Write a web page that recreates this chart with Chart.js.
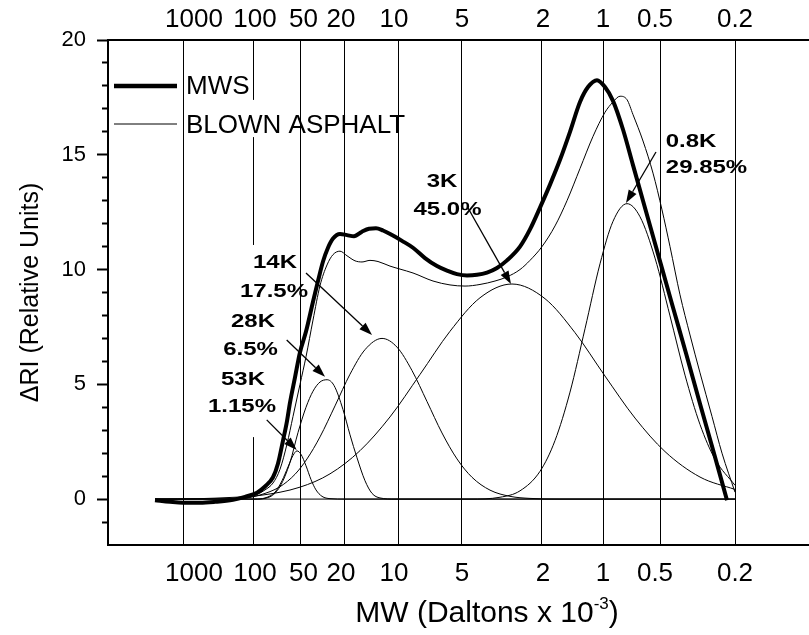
<!DOCTYPE html>
<html>
<head>
<meta charset="utf-8">
<title>MWS vs blown asphalt</title>
<script src="https://cdn.jsdelivr.net/npm/chart.js@4.4.1/dist/chart.umd.min.js"></script>
<style>
  html, body { margin: 0; padding: 0; background: #fff; overflow: hidden; }
  canvas { display: block; }
</style>
</head>
<body>
<canvas id="gpc" width="866" height="635"></canvas>
<script>
const FONT = '"Liberation Sans", Arial, Helvetica, sans-serif'

// elution axis in arbitrary units, MW marks where the calibration put them
const mwLabels = ['1000', '100', '50', '20', '10', '5', '2', '1', '0.5', '0.2']
const mwLinePos = [7.5, 14.5, 19.27, 23.6, 29.0, 35.37, 43.3, 49.55, 55.27, 62.7]
const mwLabelPos = [8.6, 14.7, 19.55, 23.3, 28.6, 35.4, 43.5, 49.5, 54.7, 62.7]
const riMajor = [0, 5, 10, 15, 20]
const riMinor = [-1, 1, 2, 3, 4, 6, 7, 8, 9, 11, 12, 13, 14, 16, 17, 18, 19]

const mwsPos = [4.7, 6.2, 7.5, 9.2, 10.7, 12.5, 13.7, 14.9, 15.7, 16.5, 17.0, 17.5, 17.9, 18.2, 18.7,
  19.2, 19.8, 20.5, 21.0, 21.5, 22.0, 22.5, 23.2, 23.9, 24.6, 25.4, 26.1, 26.8, 27.5, 28.4, 29.4,
  30.5, 31.7, 32.9, 33.9, 34.9, 35.9, 36.9, 37.9, 38.9, 39.9, 41.2, 42.2, 43.2, 44.2, 45.2, 46.2,
  47.2, 48.0, 48.9, 49.7, 50.5, 51.5, 52.5, 53.5, 54.5, 55.5, 56.5, 57.8, 59.2, 60.5, 61.9]
const mwsRI = [-0.05, -0.12, -0.16, -0.16, -0.12, -0.03, 0.1, 0.28, 0.55, 0.95, 1.55, 2.55, 3.4, 4.2, 5.3,
  6.4, 7.3, 8.6, 9.5, 10.35, 10.95, 11.35, 11.55, 11.5, 11.45, 11.65, 11.78, 11.8, 11.7, 11.5, 11.25,
  10.95, 10.5, 10.15, 9.95, 9.8, 9.74, 9.77, 9.87, 10.07, 10.4, 11.0, 11.75, 12.7, 13.7, 14.78, 16.0,
  17.3, 17.95, 18.25, 17.95, 17.35, 16.1, 14.55, 13.0, 11.45, 9.9, 8.35, 6.35, 4.15, 2.15, -0.05]

const blownPos = [4.7, 7.5, 10.7, 13.7, 14.9, 15.7, 16.5, 17.2, 17.9, 18.5, 19.2, 19.8, 20.5, 21.2, 21.9,
  22.5, 23.2, 23.9, 24.7, 25.4, 26.2, 27.0, 28.2, 29.2, 30.5, 32.5, 34.2, 35.7, 37.2, 38.7, 39.9,
  41.2, 42.2, 43.4, 44.7, 45.9, 47.2, 48.5, 49.7, 50.5, 51.2, 51.9, 52.5, 53.5, 54.5, 55.4, 56.2,
  57.2, 58.2, 59.2, 60.4, 61.4, 62.7]
const blownRI = [-0.05, -0.12, -0.1, 0.05, 0.2, 0.4, 0.7, 1.3, 2.4, 3.6, 5.0, 6.2, 7.8, 9.3, 10.2,
  10.65, 10.8, 10.6, 10.38, 10.33, 10.4, 10.35, 10.15, 10.02, 9.85, 9.5, 9.33, 9.28, 9.35, 9.5, 9.68,
  10.0, 10.4, 11.0, 11.9, 13.0, 14.4, 15.8, 16.85, 17.3, 17.55, 17.4, 16.75, 15.6, 14.2, 12.6, 11.0,
  8.9, 7.15, 5.5, 3.6, 2.0, 0.3]

// fitted components
const k53Pos = [4.7, 14.7, 15.7, 16.7, 17.4, 18.0, 18.5, 18.9, 19.3, 19.8, 20.3, 20.8, 21.4, 22.2, 23.7, 62.7]
const k53RI = [0, 0, 0.05, 0.3, 0.8, 1.4, 1.9, 2.1, 1.95, 1.45, 0.85, 0.4, 0.12, 0.02, 0, 0]

const k28Pos = [4.7, 14.7, 16.2, 17.2, 18.2, 19.0, 19.8, 20.5, 21.2, 21.9, 22.6, 23.5, 24.2, 24.9, 25.7, 26.4, 27.2, 28.7, 62.7]
const k28RI = [0, 0, 0.1, 0.55, 1.6, 2.9, 4.0, 4.7, 5.1, 5.2, 4.95, 3.9, 2.8, 1.8, 0.8, 0.25, 0.05, 0, 0]

const k14Pos = [4.7, 13.2, 15.2, 17.2, 18.7, 19.9, 21.2, 22.7, 24.2, 25.7, 27.4, 28.9, 30.4, 31.9, 33.4, 34.9, 36.4, 38.2, 40.2, 42.2, 45.2, 62.7]
const k14RI = [0, 0.02, 0.18, 0.54, 1.08, 1.75, 2.71, 4.06, 5.44, 6.51, 7.0, 6.62, 5.6, 4.25, 2.88, 1.75, 0.95, 0.39, 0.12, 0.03, 0, 0]

const k3Pos = [4.7, 9.2, 12.2, 15.2, 19.2, 22.2, 25.2, 28.2, 31.2, 34.2, 37.2, 40.4, 43.7, 46.7, 49.7, 52.7, 55.7, 59.2, 62.7]
const k3RI = [0, 0.02, 0.07, 0.16, 0.52, 1.1, 2.11, 3.58, 5.43, 7.31, 8.77, 9.37, 8.73, 7.25, 5.36, 3.53, 2.07, 0.96, 0.42]

const k08Pos = [4.7, 36.2, 39.2, 41.2, 43.2, 44.7, 46.2, 47.7, 49.2, 50.5, 51.9, 53.2, 54.7, 56.2, 57.7, 59.2, 60.7, 62.7]
const k08RI = [0, 0, 0.08, 0.36, 1.21, 2.55, 4.66, 7.42, 10.25, 12.1, 12.87, 12.3, 10.5, 7.98, 5.4, 3.25, 1.74, 0.6]

const peakNames = ['53K', '28K', '14K', '3K', '0.8K']
const peakShares = ['1.15%', '6.5%', '17.5%', '45.0%', '29.85%']

// callout placement in axis units: name, share, arrow tail, arrow head
const calloutAt = [
  {name: [13.5, 4.97], share: [13.4, 3.81], tail: [15.87, 3.45], head: [18.87, 2.14]},
  {name: [14.5, 7.5], share: [14.25, 6.28], tail: [17.87, 6.93], head: [21.7, 5.33]},
  {name: [16.7, 10.07], share: [16.6, 8.8], tail: [19.8, 9.85], head: [26.4, 7.15]},
  {name: [33.4, 13.6], share: [33.95, 12.38], tail: [36.0, 12.68], head: [40.3, 9.37]},
  {name: [58.3, 15.34], share: [59.85, 14.21], tail: [54.8, 15.12], head: [51.8, 12.9]},
]
// the 100K line is broken in the original where text used to sit
const line100Pieces = [[20, 17.39], [15.77, 11.07], [2.7, -2]]

function pts(xs, ys) {
  return xs.map((v, i) => ({x: v, y: ys[i]}))
}

function squished(ctx, text, x, y) {
  ctx.save()
  ctx.translate(x, y)
  ctx.scale(1, 0.78)
  ctx.fillText(text, 0, 0)
  ctx.restore()
}

function arrow(ctx, x1, y1, x2, y2) {
  const a = Math.atan2(y2 - y1, x2 - x1)
  const len = 13, half = 4.5
  const bx = x2 - len * Math.cos(a)
  const by = y2 - len * Math.sin(a)
  ctx.lineWidth = 1.3
  ctx.beginPath()
  ctx.moveTo(x1, y1)
  ctx.lineTo(bx, by)
  ctx.stroke()
  ctx.beginPath()
  ctx.moveTo(x2, y2)
  ctx.lineTo(bx + half * Math.sin(a), by - half * Math.cos(a))
  ctx.lineTo(bx - half * Math.sin(a), by + half * Math.cos(a))
  ctx.closePath()
  ctx.fill()
}

const decor = {
  id: 'decor',
  beforeDatasetsDraw(chart) {
    const {ctx, scales: {x, y}} = chart
    const px = Math.round(x.getPixelForValue(mwLinePos[1]) - 0.5) + 0.5
    ctx.save()
    ctx.strokeStyle = '#000'
    ctx.lineWidth = 1
    ctx.beginPath()
    line100Pieces.forEach(([a, b]) => {
      ctx.moveTo(px, y.getPixelForValue(a))
      ctx.lineTo(px, y.getPixelForValue(b))
    })
    ctx.stroke()
    ctx.restore()
  },
  afterDatasetsDraw(chart) {
    const {ctx, chartArea: area, scales: {x, y}} = chart
    ctx.save()
    ctx.strokeStyle = '#000'
    ctx.fillStyle = '#000'

    // legend
    ctx.lineWidth = 4.5
    ctx.beginPath()
    ctx.moveTo(area.left + 6, 86)
    ctx.lineTo(area.left + 69, 86)
    ctx.stroke()
    ctx.lineWidth = 1
    ctx.beginPath()
    ctx.moveTo(area.left + 6, 124)
    ctx.lineTo(area.left + 69, 124)
    ctx.stroke()
    ctx.font = '26px ' + FONT
    ctx.textAlign = 'left'
    ctx.textBaseline = 'alphabetic'
    ctx.fillText('MWS', area.left + 78, 94)
    ctx.fillText('BLOWN ASPHALT', area.left + 78, 133)

    // peak callouts
    ctx.font = 'bold 24px ' + FONT
    ctx.textAlign = 'center'
    calloutAt.forEach((c, i) => {
      squished(ctx, peakNames[i], x.getPixelForValue(c.name[0]), y.getPixelForValue(c.name[1]))
      squished(ctx, peakShares[i], x.getPixelForValue(c.share[0]), y.getPixelForValue(c.share[1]))
      arrow(ctx,
        x.getPixelForValue(c.tail[0]), y.getPixelForValue(c.tail[1]),
        x.getPixelForValue(c.head[0]), y.getPixelForValue(c.head[1]))
    })
    ctx.restore()
  },
  afterDraw(chart) {
    // axis title with a superscript exponent
    const {ctx, chartArea: area} = chart
    const cx = (area.left + area.right) / 2
    const base = 622
    ctx.save()
    ctx.fillStyle = '#000'
    ctx.textAlign = 'left'
    ctx.textBaseline = 'alphabetic'
    ctx.font = '30px ' + FONT
    const head = 'MW (Daltons x 10'
    const w1 = ctx.measureText(head).width
    const w3 = ctx.measureText(')').width
    ctx.font = '17px ' + FONT
    const w2 = ctx.measureText('-3').width
    let left = cx - (w1 + w2 + w3) / 2
    ctx.font = '30px ' + FONT
    ctx.fillText(head, left, base)
    ctx.font = '17px ' + FONT
    ctx.fillText('-3', left + w1, base - 13)
    ctx.font = '30px ' + FONT
    ctx.fillText(')', left + w1 + w2, base)
    ctx.restore()
  },
}

const line = {borderColor: '#000', borderWidth: 1, pointRadius: 0, fill: false, cubicInterpolationMode: 'monotone'}

function mwAxis(position, height, pad) {
  return {
    type: 'linear', position, min: 0, max: 75.8, weight: 1,
    afterBuildTicks: (s) => { s.ticks = mwLabelPos.map((v) => ({value: v})) },
    afterFit: (s) => { s.height = height },
    grid: {drawOnChartArea: false, drawTicks: false},
    border: {color: '#000', width: 2},
    ticks: {
      padding: pad, color: '#000', autoSkip: false, maxRotation: 0,
      font: {family: FONT, size: 26},
      callback: (v, i) => mwLabels[i],
    },
  }
}

new Chart(document.getElementById('gpc'), {
  type: 'line',
  data: {
    datasets: [
      {label: 'MWS', data: pts(mwsPos, mwsRI), ...line, borderWidth: 4},
      {label: 'BLOWN ASPHALT', data: pts(blownPos, blownRI), ...line},
      {label: '53K', data: pts(k53Pos, k53RI), ...line},
      {label: '28K', data: pts(k28Pos, k28RI), ...line},
      {label: '14K', data: pts(k14Pos, k14RI), ...line},
      {label: '3K', data: pts(k3Pos, k3RI), ...line},
      {label: '0.8K', data: pts(k08Pos, k08RI), ...line},
    ],
  },
  options: {
    responsive: false,
    animation: false,
    devicePixelRatio: 1,
    layout: {padding: 0},
    plugins: {legend: {display: false}, tooltip: {enabled: false}},
    scales: {
      x: mwAxis('bottom', 90, 13),
      x2: mwAxis('top', 40, 5),
      xg: {
        type: 'linear', position: 'bottom', min: 0, max: 75.8, weight: 0,
        afterBuildTicks: (s) => { s.ticks = mwLinePos.map((v) => ({value: v})) },
        afterFit: (s) => { s.height = 0 },
        ticks: {display: false},
        border: {display: false},
        grid: {
          drawTicks: false, lineWidth: 1,
          color: (c) => (c.index === 1 ? 'rgba(0,0,0,0)' : '#000'),
        },
      },
      y: {
        type: 'linear', position: 'left', min: -2, max: 20, weight: 1,
        afterBuildTicks: (s) => { s.ticks = riMajor.map((v) => ({value: v})) },
        afterFit: (s) => { s.width = 108 },
        grid: {drawOnChartArea: false, tickLength: 11, tickWidth: 2, tickColor: '#000'},
        border: {color: '#000', width: 2},
        ticks: {padding: 11, color: '#000', font: {family: FONT, size: 22}},
        title: {
          display: true, text: 'ΔRI (Relative Units)', color: '#000',
          font: {family: FONT, size: 25}, padding: {top: 16, bottom: 0},
        },
      },
      yMinor: {
        type: 'linear', position: 'left', min: -2, max: 20, weight: 0,
        afterBuildTicks: (s) => { s.ticks = riMinor.map((v) => ({value: v})) },
        afterFit: (s) => { s.width = 0 },
        grid: {drawOnChartArea: false, tickLength: 6, tickWidth: 2, tickColor: '#000'},
        border: {display: false},
        ticks: {display: false},
      },
    },
  },
  plugins: [decor],
})
</script>
</body>
</html>
